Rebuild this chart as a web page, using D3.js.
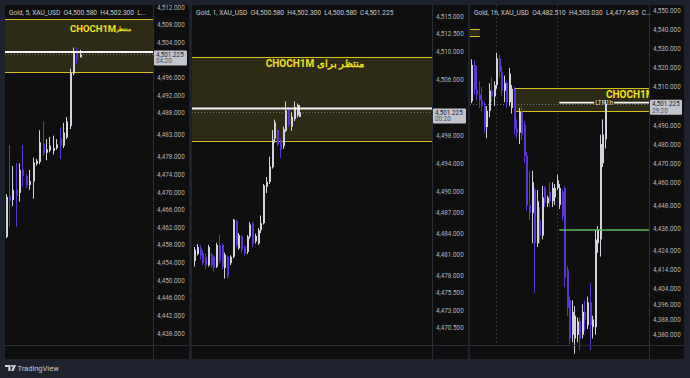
<!DOCTYPE html>
<html>
<head>
<meta charset="utf-8">
<script src="https://cdn.jsdelivr.net/npm/d3@7"></script>
<style>
  html, body { margin: 0; padding: 0; background: #1e222d; }
  svg { display: block; font-family: Roboto, "Liberation Sans", sans-serif; }
</style>
</head>
<body>
<svg id="chart" width="690" height="378"></svg>
<script>
// ---- panel 1 : Gold 5m ----
const p1Open  = [4459.8, 4469.0, 4468.2, 4470.5, 4469.8, 4475.2, 4473.6, 4471.6, 4472.4, 4476.4, 4476.8, 4481.0, 4478.9, 4479.4, 4479.3, 4480.0, 4482.2, 4480.5, 4482.4, 4485.0, 4496.9, 4502.0, 4500.58];
const p1High  = [4469.5, 4480.7, 4475.9, 4476.6, 4476.5, 4480.7, 4474.0, 4475.0, 4477.8, 4477.5, 4484.0, 4486.0, 4482.0, 4482.5, 4482.8, 4482.0, 4484.6, 4485.7, 4487.0, 4498.0, 4502.8, 4502.8, 4502.3];
const p1Low   = [4459.5, 4462.0, 4466.8, 4462.1, 4467.8, 4471.2, 4470.9, 4470.5, 4468.5, 4476.0, 4476.3, 4478.2, 4477.2, 4479.0, 4478.5, 4479.6, 4477.5, 4480.0, 4482.0, 4484.3, 4496.5, 4499.0, 4500.58];
const p1Close = [4468.9, 4468.0, 4470.5, 4469.2, 4475.0, 4473.6, 4471.5, 4472.5, 4476.7, 4477.1, 4481.3, 4478.7, 4479.7, 4480.5, 4480.0, 4480.8, 4480.6, 4483.5, 4486.0, 4497.0, 4501.8, 4500.2, 4501.225];
const p1PriceTicks = [4512, 4508, 4504, 4496, 4492, 4488, 4483, 4478, 4474, 4470, 4466, 4462, 4458, 4454, 4450, 4446, 4442, 4438];
const p1TimeIdx = [16, 34];
const p1TimeLabels = ['19:30', '21:00'];

// ---- panel 2 : Gold 1m ----
const p2Open  = [4480.0, 4481.0, 4481.8, 4481.1, 4480.6, 4479.4, 4480.9, 4480.6, 4479.2, 4482.3, 4482.3, 4479.0, 4480.6, 4479.7, 4480.6, 4485.7, 4481.8, 4483.5, 4482.0, 4481.3, 4483.5, 4485.4, 4482.8, 4482.5, 4484.4, 4485.4, 4490.6, 4491.3, 4493.4, 4497.5, 4498.7, 4497.3, 4496.4, 4498.6, 4501.8, 4499.2, 4500.3, 4500.8, 4500.58];
const p2High  = [4482.0, 4482.4, 4482.3, 4481.5, 4481.0, 4482.3, 4481.2, 4480.8, 4482.6, 4483.7, 4482.5, 4481.2, 4480.8, 4480.8, 4486.0, 4485.9, 4484.0, 4483.7, 4482.2, 4483.7, 4485.6, 4485.6, 4483.9, 4484.7, 4486.5, 4491.0, 4492.0, 4494.9, 4498.7, 4500.2, 4498.8, 4497.4, 4499.2, 4502.8, 4502.0, 4501.2, 4502.8, 4502.5, 4502.3];
const p2Low   = [4479.2, 4480.8, 4480.2, 4479.4, 4478.8, 4479.2, 4479.0, 4478.5, 4479.0, 4479.7, 4478.8, 4477.5, 4477.5, 4479.4, 4480.4, 4482.0, 4481.6, 4481.2, 4480.8, 4481.0, 4483.2, 4482.0, 4482.5, 4482.3, 4484.0, 4485.2, 4489.7, 4491.0, 4493.2, 4496.9, 4496.4, 4494.7, 4496.0, 4498.4, 4499.2, 4498.6, 4500.0, 4500.5, 4500.58];
const p2Close = [4481.6, 4482.0, 4480.8, 4479.7, 4479.4, 4482.0, 4479.4, 4479.0, 4482.3, 4480.1, 4479.2, 4480.9, 4477.8, 4480.6, 4485.9, 4482.3, 4483.7, 4481.6, 4481.1, 4483.5, 4485.2, 4482.5, 4483.6, 4484.4, 4485.4, 4490.8, 4491.3, 4493.5, 4497.3, 4499.8, 4496.6, 4495.9, 4498.8, 4501.5, 4499.5, 4500.6, 4502.0, 4502.3, 4501.225];
const p2PriceTicks = [4515, 4512.5, 4510, 4506, 4502, 4498, 4494, 4490, 4487, 4484, 4481, 4478, 4475.5, 4473, 4470.5];
const p2TimeIdx = [9, 24, 39, 54, 69, 84];
const p2TimeLabels = ['19:30', '19:45', '20:00', '20:15', '20:30', '20:45'];

// ---- panel 3 : Gold 1h ----
const p3Open  = [4502.5, 4521.5, 4508.5, 4506, 4503, 4500, 4489, 4497.5, 4508, 4505, 4511, 4525, 4518, 4508, 4512, 4502, 4499, 4509, 4488, 4486, 4497, 4490, 4474, 4448, 4444, 4456, 4428, 4440, 4432, 4457, 4449, 4455, 4450, 4452, 4457, 4448, 4455, 4457, 4414, 4398, 4380, 4378, 4380, 4387, 4380, 4392, 4385, 4397, 4384, 4384, 4428, 4430, 4470, 4482.51];
const p3High  = [4524.5, 4524, 4521, 4513, 4510, 4502, 4500, 4512, 4515, 4513, 4528, 4527, 4521, 4516, 4513, 4520, 4511, 4510, 4493, 4499, 4500, 4492, 4476, 4466, 4466, 4457, 4456, 4447, 4458, 4458, 4453, 4460, 4460, 4459, 4464, 4459, 4456, 4458, 4416, 4400, 4398, 4395, 4389, 4389, 4396, 4398, 4400, 4407, 4390, 4435, 4437, 4485, 4493, 4503.03];
const p3Low   = [4501.5, 4506, 4503, 4499, 4497, 4486, 4483, 4494, 4502, 4500, 4509, 4515, 4505, 4502, 4499, 4500, 4496, 4485, 4483, 4480, 4482, 4470, 4445, 4440, 4428, 4402, 4426, 4428, 4430, 4447, 4447, 4447, 4447, 4448, 4456, 4446, 4440, 4405, 4390, 4375, 4376, 4370, 4376, 4372, 4378, 4382, 4383, 4372, 4378, 4380, 4423, 4421, 4468, 4477.685];
const p3Close = [4521.5, 4508.5, 4506, 4503, 4500, 4489, 4497.5, 4508, 4505, 4511, 4525, 4518, 4508, 4512, 4502, 4517, 4509, 4488, 4486, 4497, 4485, 4474, 4448, 4444, 4460, 4428, 4450, 4432, 4452, 4449, 4452, 4450, 4457, 4457, 4461, 4457, 4442, 4410, 4394, 4378, 4392, 4390, 4387, 4378, 4392, 4388, 4397, 4385, 4388, 4430, 4435, 4480, 4485, 4501.225];
const p3PriceTicks = [4550, 4540, 4530, 4520, 4510, 4490, 4480, 4470, 4460, 4448, 4436, 4424, 4414, 4404, 4396, 4388, 4380];
const p3TimeIdx = [10, 34, 58];
const p3TimeLabels = ['27', '28', '29'];

// ---- levels / drawings ----
const lastPrice = 4501.225;
const countdowns = ['04:20', '00:20', '29:20'];
const headers = [
  'Gold, 5, XAU_USD  O4,500.580  H4,502.300  L...',
  'Gold, 1, XAU_USD  O4,500.580  H4,502.300  L4,500.580  C4,501.225',
  'Gold, 1h, XAU_USD  O4,482.510  H4,503.030  L4,477.685  C...'
];
const zoneTop = 4509.2, zoneBottom = 4497.2;
const oldZoneTop = 4540.3, oldZoneBottom = 4536.6;
const whiteLevel = 4501.8;
const greenLevel = 4434.9;
const labelEn = 'CHOCH1M';
const labelFa = 'منتظر برای CHOCH1M';

const UP = '#d1d4dc', DOWN = '#5c36d4', YELLOW = '#d6bf1f', TEXTY = '#f2e01c';
const TOP = 5, PLOT_BOTTOM = 345, BOTTOM = 359;

const svg = d3.select('#chart');
svg.append('rect').attr('width', 690).attr('height', 378).attr('fill', '#1e222d');

function drawPanel(p) {
  const g = svg.append('g');
  g.append('rect')
    .attr('x', p.left).attr('y', TOP)
    .attr('width', p.right - p.left).attr('height', BOTTOM - TOP)
    .attr('rx', 2).attr('fill', '#0f0f0f');

  const x = d3.scaleLinear().domain(p.xDomain).range([p.left, p.plotRight]);
  const y = d3.scaleLinear().domain(p.yDomain).range([PLOT_BOTTOM, TOP]);

  g.append('clipPath').attr('id', 'clip' + p.id)
    .append('rect').attr('x', p.left).attr('y', TOP)
    .attr('width', p.plotRight - p.left).attr('height', BOTTOM - TOP);
  const plot = g.append('g').attr('clip-path', `url(#clip${p.id})`);

  // day separators
  (p.separators || []).forEach(i => {
    plot.append('line')
      .attr('x1', Math.round(x(i)) + 0.5).attr('x2', Math.round(x(i)) + 0.5)
      .attr('y1', TOP).attr('y2', PLOT_BOTTOM)
      .attr('stroke', '#2e313b').attr('stroke-dasharray', '2,2');
  });

  // zones
  const drawZone = (x0, x1, top, bot) => {
    plot.append('rect')
      .attr('x', x0).attr('y', y(top))
      .attr('width', x1 - x0).attr('height', y(bot) - y(top))
      .attr('fill', '#2d2a16');
    [top, bot].forEach(v => plot.append('line')
      .attr('x1', x0).attr('x2', x1)
      .attr('y1', Math.round(y(v)) + 0.5).attr('y2', Math.round(y(v)) + 0.5)
      .attr('stroke', YELLOW).attr('stroke-width', 1));
  };
  drawZone(x(p.zoneStart), p.plotRight, zoneTop, zoneBottom);
  if (p.oldZoneEnd !== undefined) drawZone(p.left, x(p.oldZoneEnd), oldZoneTop, oldZoneBottom);

  // last price dotted line
  plot.append('line')
    .attr('x1', p.left).attr('x2', p.plotRight)
    .attr('y1', Math.round(y(lastPrice)) + 0.5).attr('y2', Math.round(y(lastPrice)) + 0.5)
    .attr('stroke', '#6f727c').attr('stroke-dasharray', '1,2');

  // candles
  const data = p.open.map((o, i) => ({i, o, h: p.high[i], l: p.low[i], c: p.close[i]}));
  const cg = plot.append('g');
  cg.selectAll('line.wick').data(data).enter().append('line')
    .attr('x1', d => Math.round(x(d.i)) + 0.5).attr('x2', d => Math.round(x(d.i)) + 0.5)
    .attr('y1', d => y(d.h)).attr('y2', d => y(d.l))
    .attr('stroke', d => d.c >= d.o ? UP : DOWN).attr('stroke-width', 1);
  cg.selectAll('rect.body').data(data).enter().append('rect')
    .attr('x', d => Math.round(x(d.i)))
    .attr('y', d => y(Math.max(d.o, d.c)))
    .attr('width', 2)
    .attr('height', d => Math.max(1, Math.abs(y(d.o) - y(d.c))))
    .attr('fill', d => d.c >= d.o ? UP : DOWN);

  // white level line
  const ly = y(whiteLevel);
  if (p.ltrLabel) {
    const x0 = x(p.levelStart), mid = (x0 + p.plotRight) / 2;
    [[x0, mid - 10], [mid + 10, p.plotRight]].forEach(s => plot.append('line')
      .attr('x1', s[0]).attr('x2', s[1]).attr('y1', ly).attr('y2', ly)
      .attr('stroke', '#f5f5f5').attr('stroke-width', 1.6));
    plot.append('text').attr('x', mid).attr('y', ly + 2.5)
      .attr('text-anchor', 'middle').attr('font-size', 6.5)
      .attr('fill', '#e0e0e0').text(p.ltrLabel);
    plot.append('line')
      .attr('x1', x0).attr('x2', p.plotRight)
      .attr('y1', y(greenLevel)).attr('y2', y(greenLevel))
      .attr('stroke', '#5cb85c').attr('stroke-width', 1.5);
  } else {
    plot.append('line')
      .attr('x1', p.left).attr('x2', p.plotRight).attr('y1', ly).attr('y2', ly)
      .attr('stroke', '#f5f5f5').attr('stroke-width', 2);
  }

  // zone labels
  p.labels.forEach(l => {
    const t = plot.append('text')
      .attr('x', l.x).attr('y', l.y)
      .attr('text-anchor', l.anchor || 'start')
      .attr('font-size', l.size).attr('font-weight', 'bold')
      .attr('fill', TEXTY).text(l.text);
    if (l.rtl) t.attr('direction', 'rtl').style('unicode-bidi', 'embed');
  });

  // header
  g.append('text').attr('x', p.left + 4).attr('y', 15)
    .attr('font-size', 6.6).attr('fill', '#c9ccd4')
    .style('white-space', 'pre').text(p.header);

  // separators between plot / axes
  g.append('line').attr('x1', p.plotRight + 0.5).attr('x2', p.plotRight + 0.5)
    .attr('y1', TOP).attr('y2', BOTTOM).attr('stroke', '#2a2e39');
  g.append('line').attr('x1', p.left).attr('x2', p.right)
    .attr('y1', PLOT_BOTTOM + 0.5).attr('y2', PLOT_BOTTOM + 0.5).attr('stroke', '#2a2e39');

  // price axis
  const ya = g.append('g').attr('transform', `translate(${p.plotRight},0)`)
    .call(d3.axisRight(y).tickValues(p.priceTicks).tickFormat(d3.format(',.3f')).tickSize(0).tickPadding(4));
  ya.select('.domain').remove();
  ya.selectAll('text').attr('fill', '#b2b5be').attr('font-size', 6.3)
    .attr('font-family', 'Roboto, "Liberation Sans", sans-serif');
  // hide ticks sitting under the last-price tag
  const tagTop = y(lastPrice) - 4;
  ya.selectAll('.tick').filter(d => y(d) > tagTop - 3 && y(d) < tagTop + 18).remove();

  // time axis
  g.append('clipPath').attr('id', 'tclip' + p.id)
    .append('rect').attr('x', p.left).attr('y', PLOT_BOTTOM)
    .attr('width', p.plotRight - p.left).attr('height', BOTTOM - PLOT_BOTTOM);
  const xa = g.append('g').attr('transform', `translate(0,${PLOT_BOTTOM})`)
    .attr('clip-path', `url(#tclip${p.id})`)
    .call(d3.axisBottom(x).tickValues(p.timeIdx).tickFormat((d, i) => p.timeLabels[i]).tickSize(0).tickPadding(4));
  xa.select('.domain').remove();
  xa.selectAll('text').attr('fill', '#b2b5be').attr('font-size', 6.5)
    .attr('font-family', 'Roboto, "Liberation Sans", sans-serif');

  // last price tag
  g.append('rect').attr('x', p.plotRight + 1).attr('y', tagTop)
    .attr('width', p.right - p.plotRight - 3).attr('height', 15)
    .attr('rx', 1).attr('fill', '#c2c5cd');
  g.append('text').attr('x', p.plotRight + 3).attr('y', tagTop + 6.5)
    .attr('font-size', 6.3).attr('fill', '#1e222d').text(d3.format(',.3f')(lastPrice));
  g.append('text').attr('x', p.plotRight + 3).attr('y', tagTop + 13)
    .attr('font-size', 6.3).attr('fill', '#4a4e59').text(p.countdown);
}

drawPanel({
  id: 1, left: 5, plotRight: 153, right: 189,
  xDomain: [-0.15, 43.64], yDomain: [4435.27, 4512.45],
  open: p1Open, high: p1High, low: p1Low, close: p1Close,
  priceTicks: p1PriceTicks, timeIdx: p1TimeIdx, timeLabels: p1TimeLabels,
  zoneStart: -1, header: headers[0], countdown: countdowns[0],
  labels: [
    {text: labelEn, x: 70, y: 32, size: 9.5},
    {text: 'منتظر', x: 116, y: 31, size: 6}
  ]
});

drawPanel({
  id: 2, left: 192, plotRight: 432, right: 468,
  xDomain: [-0.72, 85.9], yDomain: [4468.0, 4516.57],
  open: p2Open, high: p2High, low: p2Low, close: p2Close,
  priceTicks: p2PriceTicks, timeIdx: p2TimeIdx, timeLabels: p2TimeLabels,
  zoneStart: -1, header: headers[1], countdown: countdowns[1],
  labels: [{text: labelFa, x: 315, y: 67, size: 10, anchor: 'middle', rtl: true}]
});

drawPanel({
  id: 3, left: 470, plotRight: 649, right: 684,
  xDomain: [-0.4, 70.6], yDomain: [4374.6, 4553.0],
  open: p3Open, high: p3High, low: p3Low, close: p3Close,
  priceTicks: p3PriceTicks, timeIdx: p3TimeIdx, timeLabels: p3TimeLabels,
  separators: [10, 34],
  zoneStart: 17.1, oldZoneEnd: 3.5, levelStart: 35, ltrLabel: 'LTR1h',
  header: headers[2], countdown: countdowns[2],
  labels: [{text: labelEn, x: 606, y: 98, size: 10}]
});

// TradingView watermark
const wm = svg.append('g').attr('fill', '#d1d4dc');
wm.append('path').attr('d', 'M5 365h5.5v6h-2.2v-4h-3.3z');
wm.append('circle').attr('cx', 12).attr('cy', 366).attr('r', 1.1);
wm.append('path').attr('d', 'M13.6 365h2.4l-2.4 6h-2.4z');
wm.append('text').attr('x', 17.5).attr('y', 371).attr('font-size', 7.5)
  .attr('fill', '#c9ccd4').text('TradingView');
</script>
</body>
</html>
